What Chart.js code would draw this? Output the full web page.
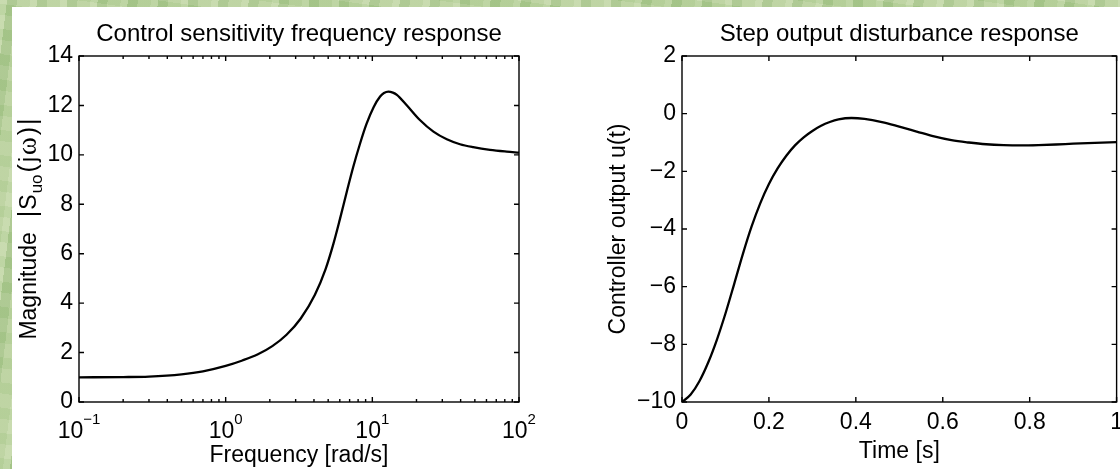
<!DOCTYPE html>
<html>
<head>
<meta charset="utf-8">
<title>Control sensitivity / step output disturbance</title>
<script src="https://cdn.jsdelivr.net/npm/chart.js@4.4.1/dist/chart.umd.min.js"></script>
<style>
  html, body { margin: 0; padding: 0; }
  body {
    width: 1120px; height: 469px; overflow: hidden; position: relative;
    background-color: #b2cd96;
    background-image:
      repeating-linear-gradient(97deg, rgba(255,255,235,.22) 0 7px, rgba(125,168,98,.18) 7px 17px, rgba(205,222,178,.26) 17px 30px),
      repeating-linear-gradient(8deg, rgba(150,190,120,.2) 0 11px, rgba(222,230,200,.18) 11px 25px);
  }
  #sheet { position: absolute; left: 12px; top: 7px; right: 0; bottom: 0; background: #fff; }
  .plot { position: absolute; top: 0; height: 469px; }
  #freqBox { left: 0; width: 560px; }
  #stepBox { left: 560px; width: 570px; }
</style>
</head>
<body>
<div id="sheet"></div>
<div class="plot" id="freqBox"><canvas id="freqChart" width="560" height="469"></canvas></div>
<div class="plot" id="stepBox"><canvas id="stepChart" width="570" height="469"></canvas></div>
<script>
// |S_uo(jw)| against frequency [rad/s]
const freq = [0.1, 0.2, 0.3, 0.5, 0.7, 1.0, 1.3, 1.66, 2.08, 2.6, 3.25, 4.06, 4.8, 5.42, 6.0, 6.69,
              7.4, 8.24, 9.14, 10.2, 11.3, 12.0, 12.85, 13.8, 14.7, 17.1, 21.1, 26.1, 32.2, 39.6, 48.7, 63.4, 82.4, 100];
const magnitude = [1.0, 1.01, 1.03, 1.12, 1.24, 1.46, 1.68, 1.93, 2.26, 2.72, 3.38, 4.34, 5.38, 6.39, 7.38, 8.5,
                   9.5, 10.45, 11.26, 11.93, 12.36, 12.5, 12.56, 12.52, 12.43, 12.02, 11.41, 10.94, 10.63, 10.43, 10.31, 10.2, 10.13, 10.09];
const freqTicks = [0.1, 0.2, 0.3, 0.4, 0.5, 0.6, 0.7, 0.8, 0.9,
                   1, 2, 3, 4, 5, 6, 7, 8, 9,
                   10, 20, 30, 40, 50, 60, 70, 80, 90, 100];
const freqDecades = [0.1, 1, 10, 100];
const decadeExponents = ['\u22121', '0', '1', '2'];

// controller output u(t) after a unit step output disturbance
const time = [0, 0.02, 0.04, 0.06, 0.08, 0.1, 0.12, 0.14, 0.16, 0.18, 0.2, 0.22, 0.24, 0.26, 0.28, 0.3,
              0.32, 0.34, 0.36, 0.39, 0.42, 0.46, 0.5, 0.54, 0.58, 0.62, 0.66, 0.7, 0.74, 0.78, 0.82, 0.86, 0.9, 0.95, 1.0];
const controlOut = [-10, -9.74, -9.28, -8.64, -7.85, -6.93, -5.91, -4.87, -3.92, -3.11, -2.44, -1.9, -1.46, -1.1, -0.82, -0.6,
                    -0.42, -0.29, -0.2, -0.15, -0.18, -0.29, -0.45, -0.62, -0.79, -0.92, -1.0, -1.06, -1.09, -1.1, -1.09, -1.07, -1.04, -1.01, -0.99];

const FONT = '"Liberation Sans", Arial, Helvetica, sans-serif';
const SERIF = '"Liberation Serif", "Times New Roman", serif';

// draws a run of text pieces (sub/superscripts) centred on x
function drawRich(ctx, parts, x, y) {
  let total = 0;
  parts.forEach(p => {
    ctx.font = p.size + 'px ' + (p.family || FONT);
    p.w = ctx.measureText(p.text).width + (p.gap || 0);
    total += p.w;
  });
  let cx = x - total / 2;
  parts.forEach(p => {
    ctx.font = p.size + 'px ' + (p.family || FONT);
    ctx.fillText(p.text, cx, y + (p.dy || 0));
    cx += p.w;
  });
}

// boxed axes with inward ticks, title and axis labels
function boxAxes(cfg) {
  return {
    id: 'boxAxes',
    afterDraw(chart) {
      const {ctx, chartArea: a, scales} = chart;
      const xs = scales.x, ys = scales.y;
      ctx.save();
      ctx.strokeStyle = '#000';
      ctx.lineWidth = 1.4;
      ctx.strokeRect(a.left, a.top, a.right - a.left, a.bottom - a.top);
      ctx.beginPath();
      xs.ticks.forEach(t => {
        const px = xs.getPixelForValue(t.value);
        const len = t.major === false ? 3 : 5;
        ctx.moveTo(px, a.bottom); ctx.lineTo(px, a.bottom - len);
        ctx.moveTo(px, a.top); ctx.lineTo(px, a.top + len);
      });
      ys.ticks.forEach(t => {
        const py = ys.getPixelForValue(t.value);
        ctx.moveTo(a.left, py); ctx.lineTo(a.left + 5, py);
        ctx.moveTo(a.right, py); ctx.lineTo(a.right - 5, py);
      });
      ctx.stroke();

      ctx.fillStyle = '#000';
      ctx.textAlign = 'left';
      ctx.textBaseline = 'alphabetic';
      const cx = (a.left + a.right) / 2, cy = (a.top + a.bottom) / 2;
      drawRich(ctx, [{text: cfg.title, size: 24}], cx, a.top - 15);
      drawRich(ctx, [{text: cfg.xLabel, size: 23}], cx, a.bottom + cfg.xLabelGap);

      if (cfg.decades) {
        cfg.decades.forEach((v, i) => {
          const px = xs.getPixelForValue(v);
          drawRich(ctx, [{text: '10', size: 23}, {text: cfg.exponents[i], size: 15, dy: -14}], px, a.bottom + 36);
        });
      }

      ctx.translate(a.left - cfg.yLabelGap, cy);
      ctx.rotate(-Math.PI / 2);
      drawRich(ctx, cfg.yLabel, 0, 0);
      ctx.restore();
    }
  };
}

const tickFont = {family: FONT, size: 23};
const minus = v => (v < 0 ? '\u2212' + (-v) : '' + v);

new Chart(document.getElementById('freqChart'), {
  type: 'scatter',
  data: {
    datasets: [{
      data: freq.map((w, i) => ({x: w, y: magnitude[i]})),
      showLine: true,
      borderColor: '#000',
      borderWidth: 2.3,
      pointRadius: 0,
      cubicInterpolationMode: 'monotone'
    }]
  },
  options: {
    responsive: false,
    animation: false,
    layout: {padding: {left: 0, top: 56, right: 41, bottom: 0}},
    plugins: {legend: {display: false}, tooltip: {enabled: false}},
    scales: {
      x: {
        type: 'logarithmic', min: 0.1, max: 100,
        grid: {display: false, drawTicks: false}, border: {display: false},
        ticks: {display: false},
        afterBuildTicks: s => { s.ticks = freqTicks.map(v => ({value: v, major: freqDecades.includes(v)})); },
        afterFit: s => { s.height = 67; }
      },
      y: {
        min: 0, max: 14,
        grid: {display: false, drawTicks: false}, border: {display: false},
        ticks: {stepSize: 2, padding: 6, color: '#000', font: tickFont},
        afterFit: s => { s.width = 79; }
      }
    }
  },
  plugins: [boxAxes({
    title: 'Control sensitivity frequency response',
    xLabel: 'Frequency [rad/s]',
    xLabelGap: 60,
    decades: freqDecades,
    exponents: decadeExponents,
    yLabelGap: 43,
    yLabel: [
      {text: 'Magnitude', size: 23, gap: 15},
      {text: '|', size: 25, gap: 1},
      {text: 'S', size: 23, gap: 1},
      {text: 'uo', size: 17, dy: 6, gap: 2},
      {text: '(', size: 25, gap: 2},
      {text: 'j', size: 23, gap: 2},
      {text: '\u03c9', size: 27, family: SERIF, gap: 2},
      {text: ')', size: 25, gap: 2},
      {text: '|', size: 25}
    ]
  })]
});

new Chart(document.getElementById('stepChart'), {
  type: 'scatter',
  data: {
    datasets: [{
      data: time.map((t, i) => ({x: t, y: controlOut[i]})),
      showLine: true,
      borderColor: '#000',
      borderWidth: 2.3,
      pointRadius: 0,
      cubicInterpolationMode: 'monotone'
    }]
  },
  options: {
    responsive: false,
    animation: false,
    layout: {padding: {left: 0, top: 56, right: 10, bottom: 0}},
    plugins: {legend: {display: false}, tooltip: {enabled: false}},
    scales: {
      x: {
        min: 0, max: 1,
        grid: {display: false, drawTicks: false}, border: {display: false},
        ticks: {stepSize: 0.2, padding: 7, color: '#000', font: tickFont, maxRotation: 0,
                callback: v => String(Math.round(v * 10) / 10)},
        afterFit: s => { s.height = 67; }
      },
      y: {
        min: -10, max: 2,
        grid: {display: false, drawTicks: false}, border: {display: false},
        ticks: {stepSize: 2, padding: 6, color: '#000', font: tickFont, callback: minus},
        afterFit: s => { s.width = 122; }
      }
    }
  },
  plugins: [boxAxes({
    title: 'Step output disturbance response',
    xLabel: 'Time [s]',
    xLabelGap: 56,
    yLabelGap: 57,
    yLabel: [{text: 'Controller output u(t)', size: 23}]
  })]
});
</script>
</body>
</html>
